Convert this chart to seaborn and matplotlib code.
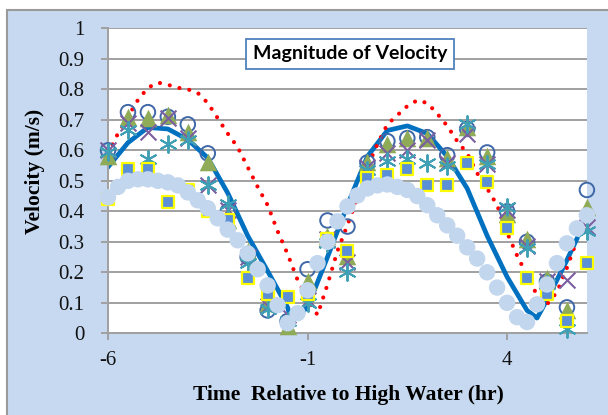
import numpy as np
import pandas as pd
import seaborn as sns
import matplotlib.pyplot as plt
from matplotlib.patches import Rectangle

# %% data
hours_obs = [-6, -5.5, -5, -4.5, -4, -3.5, -3, -2.5, -2, -1.5, -1, -0.5, 0,
             0.5, 1, 1.5, 2, 2.5, 3, 3.5, 4, 4.5, 5, 5.5, 6]
obs_square = [0.44, 0.54, 0.54, 0.43, 0.47, 0.40, 0.37, 0.18, 0.13, 0.12, 0.13, 0.31, 0.27,
              0.51, 0.52, 0.54, 0.485, 0.485, 0.557, 0.495, 0.345, 0.18, 0.13, 0.04, 0.23]
obs_circle = [0.60, 0.725, 0.725, 0.71, 0.685, 0.59, 0.40, 0.25, 0.075, 0.04, 0.21, 0.37, 0.35,
              0.56, 0.63, 0.64, 0.643, 0.584, 0.67, 0.593, 0.40, 0.30, 0.17, 0.085, 0.47]
obs_triangle = [0.58, 0.71, 0.705, 0.715, 0.66, 0.56, 0.37, 0.27, 0.10, 0.025, 0.17, 0.32, 0.255,
                0.56, 0.62, 0.64, 0.64, 0.574, 0.675, 0.58, 0.39, 0.31, 0.18, 0.075, 0.415]
obs_cross = [0.60, 0.69, 0.66, 0.705, 0.64, 0.485, 0.405, 0.25, 0.09, 0.06, 0.11, 0.31, 0.233,
             0.545, 0.59, 0.60, 0.633, 0.557, 0.655, 0.555, 0.405, 0.285, 0.17, 0.175, 0.35]
obs_star = [0.595, 0.665, 0.57, 0.62, 0.635, 0.485, 0.425, 0.23, 0.08, 0.04, 0.10, 0.295, 0.20,
            0.535, 0.565, 0.57, 0.557, 0.55, 0.685, 0.555, 0.413, 0.28, 0.16, 0.015, 0.335]

hours_dense = [-6, -5.75, -5.5, -5.25, -5, -4.75, -4.5, -4.25, -4, -3.75, -3.5, -3.25,
               -3, -2.75, -2.5, -2.25, -2, -1.75, -1.5, -1.25, -1, -0.75, -0.5, -0.25,
               0, 0.25, 0.5, 0.75, 1, 1.25, 1.5, 1.75, 2, 2.25, 2.5, 2.75,
               3, 3.25, 3.5, 3.75, 4, 4.25, 4.5, 4.75, 5, 5.25, 5.5, 5.75, 6]
dense_circle = [0.446, 0.48, 0.50, 0.505, 0.505, 0.50, 0.495, 0.485, 0.462, 0.436, 0.41, 0.377,
                0.34, 0.305, 0.262, 0.21, 0.157, 0.092, 0.033, 0.066, 0.141, 0.23, 0.30, 0.367,
                0.416, 0.452, 0.475, 0.485, 0.488, 0.48, 0.47, 0.45, 0.42, 0.387, 0.354, 0.32,
                0.282, 0.245, 0.20, 0.15, 0.10, 0.053, 0.037, 0.095, 0.16, 0.23, 0.295, 0.344, 0.387]

hours_red = hours_dense[:-1]
red_dotted = [0.59, 0.655, 0.71, 0.765, 0.805, 0.822, 0.815, 0.805, 0.80, 0.788, 0.755, 0.705,
              0.655, 0.61, 0.545, 0.48, 0.42, 0.335, 0.26, 0.175, 0.115, 0.06, 0.16, 0.27,
              0.355, 0.445, 0.545, 0.62, 0.685, 0.715, 0.745, 0.764, 0.755, 0.72, 0.68, 0.63,
              0.59, 0.525, 0.475, 0.42, 0.33, 0.255, 0.19, 0.125, 0.095, 0.135, 0.215, 0.305]

hours_model = [-6, -5.5, -5, -4.5, -4, -3.5, -3, -2.5, -2, -1.5, -1.4, -1, -0.5, 0,
               0.5, 1, 1.5, 2, 2.5, 3, 3.5, 4, 4.5, 4.75, 5, 5.5, 5.75]
model_line = [0.545, 0.625, 0.675, 0.67, 0.635, 0.575, 0.46, 0.32, 0.204, 0.085, 0.04, 0.085,
              0.25, 0.42, 0.58, 0.665, 0.68, 0.655, 0.58, 0.475, 0.32, 0.185, 0.075, 0.05,
              0.11, 0.24, 0.31]

y_ticks = [0, 0.1, 0.2, 0.3, 0.4, 0.5, 0.6, 0.7, 0.8, 0.9, 1]
x_ticks = [-6, -1, 4]

# %%
obs = pd.DataFrame({"hour": hours_obs, "square": obs_square, "circle": obs_circle,
                    "triangle": obs_triangle, "cross": obs_cross, "star": obs_star})
dense = pd.DataFrame({"hour": hours_dense, "v": dense_circle})
red = pd.DataFrame({"hour": hours_red, "v": red_dotted})
model = pd.DataFrame({"hour": hours_model, "v": model_line})

W, H = 608, 415
fig = plt.figure(figsize=(W / 100, H / 100), dpi=100)
fig.patch.set_facecolor("white")
fig.add_artist(Rectangle((7 / W, -0.02), 1.1, 1 - 10 / H + 0.02, transform=fig.transFigure,
                         facecolor="#c6d9f0", edgecolor="#9a9a9a", lw=1.5, zorder=0))

ax = fig.add_axes([108 / W, 1 - 333.3 / H, 479.3 / W, 305 / H])
ax.set_facecolor("white")

sns.lineplot(data=model, x="hour", y="v", color="#0070c0", lw=3.4, sort=False,
             estimator=None, ax=ax, zorder=2)
sns.lineplot(data=red, x="hour", y="v", color="#ff0000", lw=3.0, sort=False,
             estimator=None, ax=ax, zorder=3, linestyle=(0, (0.01, 2.4)),
             dash_capstyle="round")

kw = dict(ax=ax, clip_on=False, legend=False)
sns.scatterplot(data=obs, x="hour", y="circle", marker="o", s=110, color="#3f68a8",
                facecolor="none", edgecolor="#3f68a8", linewidth=1.4, zorder=4, **kw)
sns.scatterplot(data=obs, x="hour", y="triangle", marker="^", s=160, color="#8fab58",
                edgecolor="#8fab58", linewidth=0, zorder=5, **kw)
sns.scatterplot(data=obs, x="hour", y="cross", marker="x", s=130, color="#7a5ea0",
                edgecolor="#7a5ea0", linewidth=1.5, zorder=6, **kw)
sns.scatterplot(data=obs, x="hour", y="star", marker=(6, 2, 0), s=145, color="#3f9fb5",
                edgecolor="#3f9fb5", linewidth=1.4, zorder=7, **kw)
sns.scatterplot(data=obs, x="hour", y="square", marker="s", s=75, color="#5b8fd6",
                edgecolor="#ffff00", linewidth=1.6, zorder=8, **kw)
sns.scatterplot(data=dense, x="hour", y="v", marker="o", s=140, color="#c2d6ee",
                edgecolor="none", linewidth=0, zorder=9, **kw)

ax.set_xlim(-6, 6.01)
ax.set_ylim(0, 1)
ax.set_xticks(x_ticks)
ax.set_xticklabels([str(t) for t in x_ticks])
ax.set_yticks(y_ticks)
ax.set_yticklabels([f"{t:g}" for t in y_ticks])
ax.grid(axis="y", color="#a0a0a0", lw=1.4, zorder=0)
ax.set_axisbelow(True)
for s in ["top", "right"]:
    ax.spines[s].set_visible(False)
for s in ["left", "bottom"]:
    ax.spines[s].set_color("#a0a0a0")
    ax.spines[s].set_linewidth(1.4)
ax.tick_params(axis="both", direction="out", length=5, width=1.4, color="#a0a0a0",
               labelsize=15, labelcolor="#111111")
ax.tick_params(axis="y", pad=12)
ax.tick_params(axis="x", pad=8)
for lab in ax.get_xticklabels() + ax.get_yticklabels():
    lab.set_fontfamily("Liberation Serif")

ax.set_xlabel("Time  Relative to High Water (hr)", fontfamily="Liberation Serif",
              fontweight="bold", fontsize=15.5)
ax.set_ylabel("Velocity (m/s)", fontfamily="Liberation Serif", fontweight="bold",
              fontsize=15.5)
ax.xaxis.set_label_coords((348 - 108) / 479.3, -52 / 305)
ax.yaxis.set_label_coords((45 - 108) / 479.3, (333.3 - 171) / 305)

fig.text(350 / W, 1 - 54 / H, "Magnitude of Velocity", ha="center", va="center",
         fontfamily="Lato", fontweight="bold", fontsize=14, zorder=10,
         bbox=dict(boxstyle="square,pad=0.35", facecolor="white", edgecolor="#4f81bd", lw=1.3))

fig.savefig("out.png", dpi=100)
